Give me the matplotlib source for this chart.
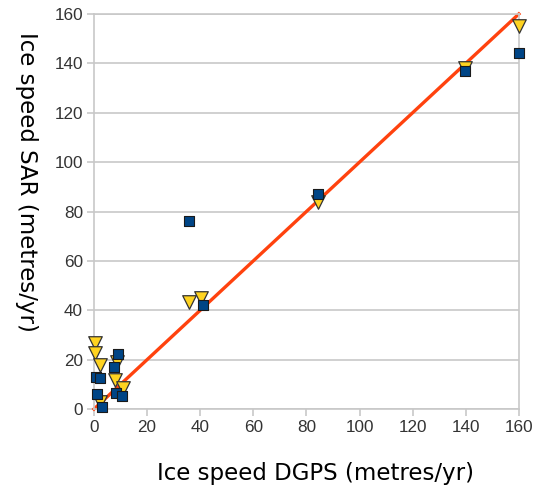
import matplotlib.pyplot as plt

# data
tri_x = [0.4, 0.4, 2.3, 7.9, 8.7, 11.0, 2.3, 35.8, 40.3, 84.3, 139.7, 160.0]
tri_y = [26.7, 22.7, 17.8, 11.7, 19.0, 8.5, 2.8, 43.3, 45.0, 83.8, 138.0, 155.0]
sq_x = [1.1, 0.8, 2.3, 7.5, 9.0, 8.3, 10.5, 3.0, 41.0, 35.8, 84.3, 139.7, 160.0]
sq_y = [6.1, 13.0, 12.5, 17.0, 22.3, 6.5, 5.3, 0.8, 42.0, 76.1, 87.0, 137.0, 144.0]
fit_x = [0, 160]
fit_y = [0, 160]

fig = plt.figure(figsize=(5.45, 4.94), dpi=100)
ax = fig.add_axes([0.1725, 0.172, 0.7795, 0.7997])

ax.plot(fit_x, fit_y, color="#ff420e", lw=2.4, zorder=2, clip_on=False)
ax.scatter(tri_x, tri_y, marker="v", s=95, color="#ffd320", edgecolors="#333333",
           linewidths=0.9, zorder=3, clip_on=False)
ax.scatter(sq_x, sq_y, marker="s", s=50, color="#004586", edgecolors="#1a1a1a",
           linewidths=0.8, zorder=4, clip_on=False)

ax.set_xlim(0, 160)
ax.set_ylim(0, 160)
ax.set_xticks(range(0, 161, 20))
ax.set_yticks(range(0, 161, 20))
ax.yaxis.grid(True, color="#c8c8c8", lw=1.2)
ax.set_axisbelow(True)
for side in ["left", "bottom", "right", "top"]:
    ax.spines[side].set_color("#c8c8c8")
    ax.spines[side].set_linewidth(1.2)
ax.tick_params(axis="both", colors="#c8c8c8", labelcolor="#333333",
               labelsize=12.3, length=5, width=1.2, pad=3)
for lbl in ax.get_xticklabels() + ax.get_yticklabels():
    lbl.set_family("Liberation Sans")

ax.set_xlabel("Ice speed DGPS (metres/yr)", fontsize=16.5, va="center")
ax.set_ylabel("Ice speed SAR (metres/yr)", fontsize=16.5, rotation=270,
              va="center", ha="center")
ax.xaxis.set_label_coords(0.522, -0.163)
ax.yaxis.set_label_coords(-0.158, 0.575)

plt.savefig("out.png", dpi=100)
